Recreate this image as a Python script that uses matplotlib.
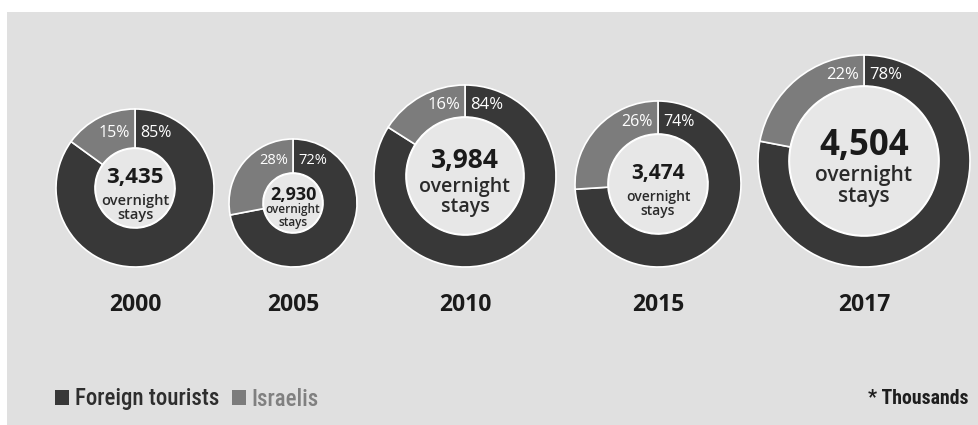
import matplotlib.pyplot as plt
from matplotlib.patches import Rectangle, Circle, Patch
from matplotlib import font_manager

W, H = 979, 425

# data (overnight stays, thousands)
years = ["2000", "2005", "2010", "2015", "2017"]
totals = [3435, 2930, 3984, 3474, 4504]
foreign_pct = [85, 72, 84, 74, 78]
israeli_pct = [15, 28, 16, 26, 22]

# layout (pixels, y measured from top)
centers_x = [135, 293, 465, 658, 864]
radii = [79, 64, 91, 83, 106]
ring_w = [39, 34, 32, 33, 31]
base_y = 267
num_size = [16, 13, 19, 15, 25]
sub_size = [10.5, 8.5, 14, 10, 15]
num_dy = [-11, -8, -16, -10, -15]
sub_dy = [20, 13, 21, 20, 25]
pct_size = [11.5, 10.5, 12, 11.5, 12]

dark = "#383838"
mid = "#7c7c7c"
bg = "#e0e0e0"
hole = "#e7e7e7"
txt = "#1a1a1a"

names = {f.name for f in font_manager.fontManager.ttflist}
narrow = "Roboto"
for cand in ["Roboto Condensed", "Liberation Sans Narrow", "Open Sans Condensed"]:
    if cand in names:
        narrow = cand
        break

def py(y):
    return H - y

fig = plt.figure(figsize=(W / 100, H / 100), dpi=100, facecolor="white")
ax = fig.add_axes([0, 0, 1, 1])

ax.add_patch(Rectangle((7, 0), W - 7, H - 12, facecolor=bg, edgecolor="none", zorder=0))

for i, yr in enumerate(years):
    r = radii[i]
    cx = centers_x[i]
    cy = base_y - r
    ax.pie([foreign_pct[i], israeli_pct[i]], center=(cx, py(cy)), radius=r,
           startangle=90, counterclock=False, colors=[dark, mid],
           wedgeprops=dict(width=ring_w[i], edgecolor="white", linewidth=1.2))
    ax.add_patch(Circle((cx, py(cy)), r - ring_w[i] - 0.5, facecolor=hole,
                        edgecolor="white", linewidth=1.0, zorder=3))

    ly = cy - r + ring_w[i] / 2 + 4
    ax.text(cx - 5, py(ly), f"{israeli_pct[i]}%", ha="right", va="center",
            color="white", fontsize=pct_size[i], family="Open Sans", zorder=4)
    ax.text(cx + 5, py(ly), f"{foreign_pct[i]}%", ha="left", va="center",
            color="white", fontsize=pct_size[i], family="Open Sans", zorder=4)

    ax.text(cx, py(cy + num_dy[i]), f"{totals[i]:,}", ha="center", va="center",
            color=txt, fontsize=num_size[i], fontweight="bold", family="Open Sans", zorder=4)
    ax.text(cx, py(cy + sub_dy[i]), "overnight\nstays", ha="center", va="center",
            color="#2a2a2a", fontsize=sub_size[i], family="Open Sans",
            fontweight="semibold", linespacing=0.95, zorder=4)

    ax.text(cx, py(305), yr, ha="center", va="center", color=txt,
            fontsize=16.5, fontweight="bold", family="Open Sans")

handles = [Patch(facecolor=dark, edgecolor="none"), Patch(facecolor=mid, edgecolor="none")]
ax.legend(handles, ["Foreign tourists", "Israelis"], loc="center left",
          bbox_to_anchor=(55 / W, 1 - 399 / H), ncol=2, frameon=False,
          handlelength=0.62, handleheight=0.62, handletextpad=0.25,
          columnspacing=0.55, borderpad=0, borderaxespad=0,
          labelcolor=["#2e2e2e", "#808080"],
          prop=dict(family=narrow, size=16.5, weight="medium"))

ax.text(969, py(399), "* Thousands", ha="right", va="center", color="#1e1e1e",
        fontsize=14.2, fontweight="bold", family=narrow)

ax.set_xlim(0, W)
ax.set_ylim(0, H)
ax.set_aspect("equal")
ax.axis("off")

fig.savefig("out.png", dpi=100, facecolor="white")
